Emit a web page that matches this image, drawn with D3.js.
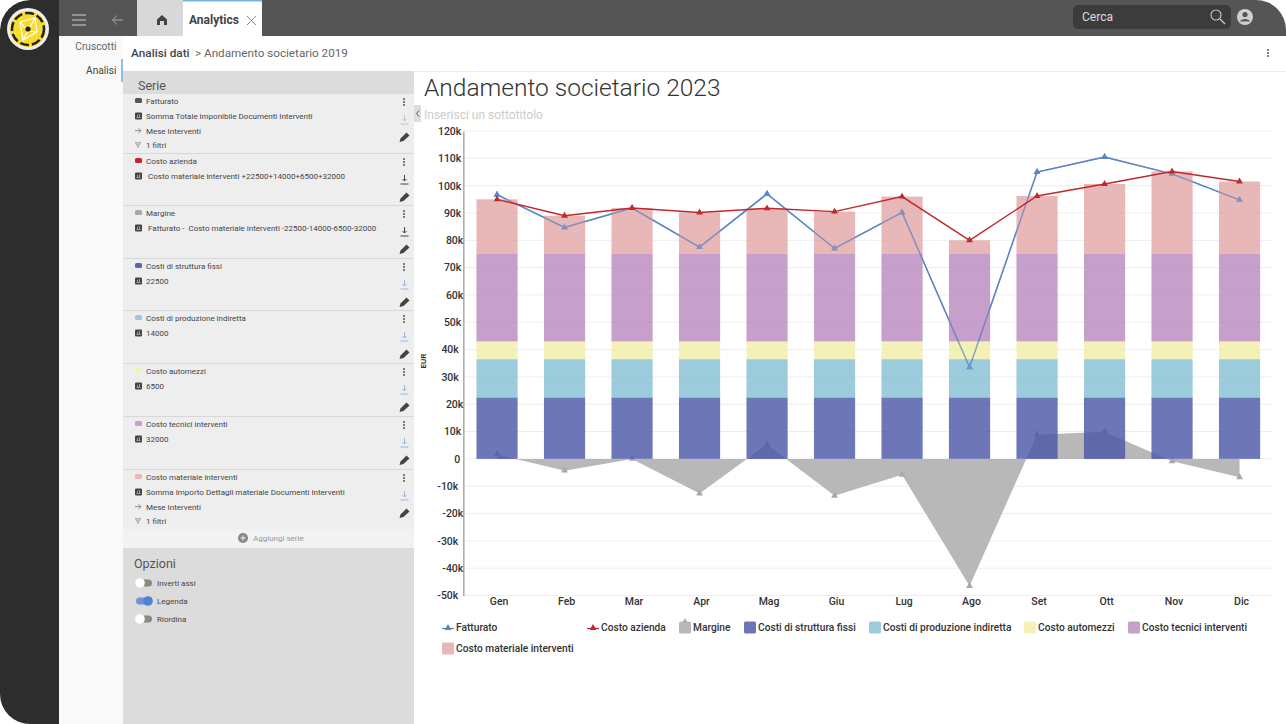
<!DOCTYPE html>
<html>
<head>
<meta charset="utf-8">
<style>
  html, body { margin: 0; background: #fff; overflow: hidden; }
  svg { display: block; font-family: Roboto, sans-serif; }
</style>
<script src="https://d3js.org/d3.v7.min.js"></script>
</head>
<body>
<svg id="cnv" width="1286" height="724"></svg>
<script>
const months = ["Gen", "Feb", "Mar", "Apr", "Mag", "Giu", "Lug", "Ago", "Set", "Ott", "Nov", "Dic"];
const fatturato = [96700, 84700, 91800, 77500, 97000, 77000, 90200, 33500, 105000, 110500, 104300, 94800];
const costoAzienda = [95000, 89000, 91800, 90200, 91700, 90500, 96000, 80000, 96200, 100600, 105200, 101500];
const margine = [1700, -4300, 0, -12700, 5300, -13500, -5800, -46500, 8800, 9900, -900, -6700];
const costiStruttura = [22500, 22500, 22500, 22500, 22500, 22500, 22500, 22500, 22500, 22500, 22500, 22500];
const costiProduzione = [14000, 14000, 14000, 14000, 14000, 14000, 14000, 14000, 14000, 14000, 14000, 14000];
const costoAutomezzi = [6500, 6500, 6500, 6500, 6500, 6500, 6500, 6500, 6500, 6500, 6500, 6500];
const costoTecnici = [32000, 32000, 32000, 32000, 32000, 32000, 32000, 32000, 32000, 32000, 32000, 32000];
const costoMateriale = [20000, 14000, 16800, 15200, 16700, 15500, 21000, 5000, 21200, 25600, 30200, 26500];
const yTicks = [-50000, -40000, -30000, -20000, -10000, 0, 10000, 20000, 30000, 40000, 50000, 60000, 70000, 80000, 90000, 100000, 110000, 120000];

const barNames = ["Costi di struttura fissi", "Costi di produzione indiretta", "Costo automezzi", "Costo tecnici interventi", "Costo materiale interventi"];
const barValues = [costiStruttura, costiProduzione, costoAutomezzi, costoTecnici, costoMateriale];

const cardNames = ["Fatturato", "Costo azienda", "Margine", "Costi di struttura fissi", "Costi di produzione indiretta", "Costo automezzi", "Costo tecnici interventi", "Costo materiale interventi"];
const cardLines = [
  ["Somma Totale imponibile Documenti Interventi", "Mese Interventi", "1 filtri"],
  [" Costo materiale interventi +22500+14000+6500+32000"],
  [" Fatturato -  Costo materiale interventi -22500-14000-6500-32000"],
  ["22500"],
  ["14000"],
  ["6500"],
  ["32000"],
  ["Somma Importo Dettagli materiale Documenti Interventi", "Mese Interventi", "1 filtri"]
];
const optionNames = ["Inverti assi", "Legenda", "Riordina"];

// layout and styles, not data
const cardTops = [94, 154, 206, 259, 311, 364, 417, 470, 530];
const barCols = ["#4855a6", "#83bed2", "#f0eda6", "#b888bd", "#e2a6a6"];
const cardCols = ["#555555", "#c8232a", "#a8a8a8", "#5b67b5", "#9ccbdb", "#f3f1b8", "#c6a0ca", "#e8b8b8"];
const dlCols = ["#bbbbbb", "#333333", "#333333", "#8fb0e0", "#8fb0e0", "#8fb0e0", "#8fb0e0", "#8fb0e0"];
const blue = "#5b84c4", red = "#c0282a", grey = "#b8b8b8";
const legendX = [442, 587, 679, 744, 869, 1024, 1128];
// tick labels in the original don't share a right edge, same order as yTicks
const tickNudge = [-3, 2, -3, 2, -3, -1, 0, 2, -2.5, -2.5, 0, 2, 0, 2, 0, 0, 0, 0];

const svg = d3.select("#cnv");
svg.append("defs").append("clipPath").attr("id", "page")
  .append("rect").attr("width", 1286).attr("height", 760).attr("rx", 30);
svg.select("defs").append("clipPath").attr("id", "leftEdge")
  .append("path").attr("d", "M30,0H1286V724H30A30,30 0 0 1 0,694V30A30,30 0 0 1 30,0Z");
const root = svg.append("g").attr("clip-path", "url(#page)");

function box(cont, x, y, w, h, fill, rx = 0) {
  return cont.append("rect").attr("x", x).attr("y", y).attr("width", w).attr("height", h).attr("fill", fill).attr("rx", rx);
}
function label(cont, txt, x, y, size, fill, opts = {}) {
  return cont.append("text").text(txt).attr("x", x).attr("y", y)
    .attr("font-size", size).attr("fill", fill)
    .attr("font-weight", opts.weight || 400)
    .attr("text-anchor", opts.anchor || "start")
    .attr("xml:space", "preserve").style("white-space", "pre");
}
function dots(cont, x, y) {
  [-3, 0, 3].forEach(d => cont.append("circle").attr("cx", x).attr("cy", y + d).attr("r", 1).attr("fill", "#555"));
}

// page frame
box(root, 0, 0, 59, 724, "#2d2d2d").attr("clip-path", "url(#leftEdge)");
box(root, 59, 0, 1227, 36, "#555555");
box(root, 59, 36, 64, 688, "#f9f9f9");

// logo
const logo = root.append("g").attr("transform", "translate(28,29)");
logo.append("circle").attr("r", 21).attr("fill", "#eeeeee");
logo.append("circle").attr("r", 18).attr("fill", "#f5dc2e");
logo.append("circle").attr("r", 16).attr("fill", "none").attr("stroke", "#222").attr("stroke-width", 2.5).attr("stroke-dasharray", "9 3");
logo.append("path").attr("d", "M-8,-7L7,-11L9,3L-5,11L-8,-7M7,-11L0,2L9,3M0,2L-5,11M-8,-7L0,2")
  .attr("fill", "none").attr("stroke", "#fff").attr("stroke-width", 1.2);
logo.append("circle").attr("r", 2.6).attr("fill", "#222");

// header
[15, 20, 25].forEach(y => box(root, 72, y - 0.6, 14, 1.2, "#bbbbbb"));
root.append("path").attr("d", "M123,20H113M117,15.5L112.5,20L117,24.5").attr("fill", "none").attr("stroke", "#aaa");
box(root, 137, 0, 46, 36, "#d8d8d8");
root.append("path").attr("d", "M162,15L167,19.5V25H164V21H160V25H157V19.5Z").attr("fill", "#444");
box(root, 183, 0, 79, 36, "#ffffff");
box(root, 183, 0, 79, 1.5, "#6fb3e0");
label(root, "Analytics", 189, 24, 12, "#444", { weight: 700 });
root.append("path").attr("d", "M247,16L256,25M256,16L247,25").attr("stroke", "#888").attr("fill", "none");
box(root, 1073, 5, 158, 24, "#3c3c3c", 5);
label(root, "Cerca", 1082, 21, 12, "#dddddd");
root.append("circle").attr("cx", 1216).attr("cy", 15).attr("r", 5).attr("fill", "none").attr("stroke", "#ccc").attr("stroke-width", 1.1);
root.append("path").attr("d", "M1220,19L1225,24").attr("stroke", "#ccc").attr("stroke-width", 1.3);
root.append("circle").attr("cx", 1245).attr("cy", 17).attr("r", 8).attr("fill", "#d0d0d0");
root.append("circle").attr("cx", 1245).attr("cy", 14.5).attr("r", 2.6).attr("fill", "#555");
root.append("path").attr("d", "M1240,21.5C1241,18 1249,18 1250,21.5Z").attr("fill", "#555");

// nav + breadcrumb
label(root, "Cruscotti", 116.5, 50, 10.2, "#666", { anchor: "end" });
label(root, "Analisi", 116.5, 74, 10.2, "#444", { anchor: "end" });
box(root, 121, 59, 2, 23, "#8cc0e6");
label(root, "Analisi dati", 131, 57, 11.8, "#444", { weight: 500 });
label(root, "> Andamento societario 2019", 195, 57, 11.7, "#666");
box(root, 123, 71, 1163, 1, "#eeeeee");
dots(root, 1268, 53);

// left panel
box(root, 123, 71, 291, 653, "#dcdcdc");
label(root, "Serie", 138, 90, 12.5, "#555");
box(root, 123, 94, 291, 454, "#eeeeee");

cardNames.forEach((name, i) => {
  const top = cardTops[i];
  const g = root.append("g");
  if (i) box(g, 123, top - 1, 291, 1, "#d8d8d8");
  box(g, 135, top + 4, 7, 5, cardCols[i], 1.5);
  label(g, name, 146, top + 10, 8, "#444");
  cardLines[i].forEach((txt, j) => {
    const y = top + 25 + j * 14.7;
    if (j === 0) {
      box(g, 135, y - 6.5, 7, 7, "#444", 1);
      g.append("path").attr("d", `M136.5,${y - 1.5}H140.5M137.5,${y - 2}V${y - 4}M139.5,${y - 2}V${y - 5}`).attr("stroke", "#ddd").attr("stroke-width", 0.6);
    } else if (j === 1) {
      g.append("path").attr("d", `M135,${y - 3}H141M138.5,${y - 5.5}L141,${y - 3}L138.5,${y - 0.5}`).attr("fill", "none").attr("stroke", "#666").attr("stroke-width", 0.7);
    } else {
      g.append("path").attr("d", `M135,${y - 5.5}H141M136,${y - 3.5}H140M137,${y - 1.5}H139`).attr("fill", "none").attr("stroke", "#666").attr("stroke-width", 0.7);
    }
    label(g, txt, 146, y, 8, "#444");
  });
  dots(g, 404, top + 8);
  const dy = top + 26;
  g.append("path").attr("d", `M404.5,${dy - 5}V${dy + 1}M402.5,${dy - 1}L404.5,${dy + 1}L406.5,${dy - 1}M400.5,${dy + 4}H408.5`)
    .attr("fill", "none").attr("stroke", dlCols[i]).attr("stroke-width", 0.9);
  g.append("path").attr("d", `M399.5,${top + 48}L400.5,${top + 44.5}L406.5,${top + 38.5}L409.5,${top + 41.5}L403.5,${top + 47}Z`).attr("fill", "#444");
});

box(root, 123, 529, 291, 19, "#f2f2f2");
root.append("circle").attr("cx", 243).attr("cy", 538).attr("r", 5).attr("fill", "#888");
root.append("path").attr("d", "M240.5,538H245.5M243,535.5V540.5").attr("stroke", "#f2f2f2");
label(root, "Aggiungi serie", 253, 541, 8, "#999");

label(root, "Opzioni", 134, 568, 12.5, "#555");
optionNames.forEach((name, i) => {
  const y = 583 + i * 18, on = i === 1;
  box(root, 136, y - 3.5, 16, 7, on ? "#6c94d6" : "#888", 3.5);
  root.append("circle").attr("cx", on ? 148 : 140).attr("cy", y).attr("r", 4.8).attr("fill", on ? "#4f82d0" : "#fff");
  label(root, name, 157, y + 3, 8, "#444");
});
box(root, 414, 105, 7, 17, "#dddddd");
root.append("path").attr("d", "M419,110.5L416.5,113.5L419,116.5").attr("fill", "none").attr("stroke", "#555");

// chart titles
label(root, "Andamento societario 2023", 424, 96, 24.5, "#333", { weight: 300 });
label(root, "Inserisci un sottotitolo", 424, 119, 12, "#cccccc");
box(root, 420, 106, 1, 16, "#dddddd");

// chart
const x = d3.scaleBand().domain(months).range([463.3, 1273.3]).paddingInner(0.39).paddingOuter(0.195);
const y = d3.scaleLinear().domain([-50000, 120000]).range([595.5, 131]);
const cx = m => x(m) + x.bandwidth() / 2;
const chart = root.append("g");
const tri = d3.symbol().type(d3.symbolTriangle).size(20);

chart.append("g").selectAll("line").data(yTicks).join("line")
  .attr("x1", x.range()[0]).attr("x2", x.range()[1])
  .attr("y1", d => y(d)).attr("y2", d => y(d))
  .attr("stroke", "#eeeeee");

// margine area
chart.append("path")
  .attr("d", d3.area().x((d, i) => cx(months[i])).y0(y(0)).y1(d => y(d))(margine))
  .attr("fill", grey);
chart.append("g").selectAll("path").data(margine).join("path")
  .attr("d", tri).attr("fill", "#a8a8a8")
  .attr("transform", (d, i) => `translate(${cx(months[i])},${y(d)})`);

const line = d3.line().x((d, i) => cx(months[i])).y(d => y(d));
function drawLine(values, col, opacity = 1) {
  const g = chart.append("g").attr("opacity", opacity);
  g.append("path").attr("d", line(values)).attr("fill", "none").attr("stroke", col).attr("stroke-width", 1.4);
  g.append("g").selectAll("path").data(values).join("path")
    .attr("d", tri).attr("fill", col)
    .attr("transform", (d, i) => `translate(${cx(months[i])},${y(d)})`);
}
// fatturato goes under the bars and again faintly on top, bars only tint it
drawLine(fatturato, blue);

const rows = months.map((m, i) => {
  const r = { month: m };
  barNames.forEach((n, k) => { r[n] = barValues[k][i]; });
  return r;
});
const stack = d3.stack().keys(barNames)(rows);
chart.append("g").selectAll("g").data(stack).join("g")
  .attr("fill", (d, i) => barCols[i])
  .attr("fill-opacity", 0.8)
  .selectAll("rect").data(d => d).join("rect")
  .attr("x", d => x(d.data.month))
  .attr("width", x.bandwidth())
  .attr("y", d => y(d[1]))
  .attr("height", d => y(d[0]) - y(d[1]));

drawLine(fatturato, blue, 0.6);
drawLine(costoAzienda, red);

// axes
const yAxis = chart.append("g").attr("transform", `translate(463.3,0)`)
  .call(d3.axisLeft(y).tickValues(yTicks).tickSize(0).tickPadding(2).tickFormat(d => d === 0 ? "0" : `${d / 1000}k`));
yAxis.select(".domain").attr("stroke", "#aaaaaa").attr("stroke-width", 1.5);
yAxis.selectAll("text").attr("font-size", 10.5).attr("font-family", "Roboto").attr("font-weight", 500).attr("fill", "#333")
  .attr("dx", d => tickNudge[yTicks.indexOf(d)]);

const xAxis = chart.append("g").attr("transform", "translate(2,595)")
  .call(d3.axisBottom(x).tickSize(0).tickPadding(3));
xAxis.select(".domain").remove();
xAxis.selectAll("text").attr("font-size", 10.5).attr("font-family", "Roboto").attr("font-weight", 500).attr("fill", "#333");

label(chart, "EUR", 0, 0, 8, "#333", { weight: 700, anchor: "middle" })
  .attr("transform", "translate(426,361) rotate(-90)");

// legend
const legendNames = ["Fatturato", "Costo azienda", "Margine"].concat(barNames);
const legendCols = [blue, red, grey].concat(barCols);
legendNames.forEach((name, i) => {
  const row2 = i >= legendX.length;
  const lx = row2 ? legendX[0] : legendX[i];
  const ly = row2 ? 648 : 627;
  const g = chart.append("g");
  if (i < 2) {
    g.append("path").attr("d", `M${lx},${ly + 1.5}H${lx + 12}`).attr("stroke", legendCols[i]).attr("stroke-width", 1.2);
    g.append("path").attr("d", tri).attr("fill", legendCols[i]).attr("transform", `translate(${lx + 6},${ly + 1})`);
  } else {
    box(g, lx, ly - 5.5, 12, 12, legendCols[i], 1.5).attr("fill-opacity", i === 2 ? 1 : 0.8);
    if (i === 2) g.append("path").attr("d", d3.symbol().type(d3.symbolTriangle).size(10)).attr("fill", "#a8a8a8").attr("transform", `translate(${lx + 6},${ly - 6})`);
  }
  label(g, name, lx + 14, ly + 4, 10.2, "#333", { weight: 500 });
});
</script>
</body>
</html>
